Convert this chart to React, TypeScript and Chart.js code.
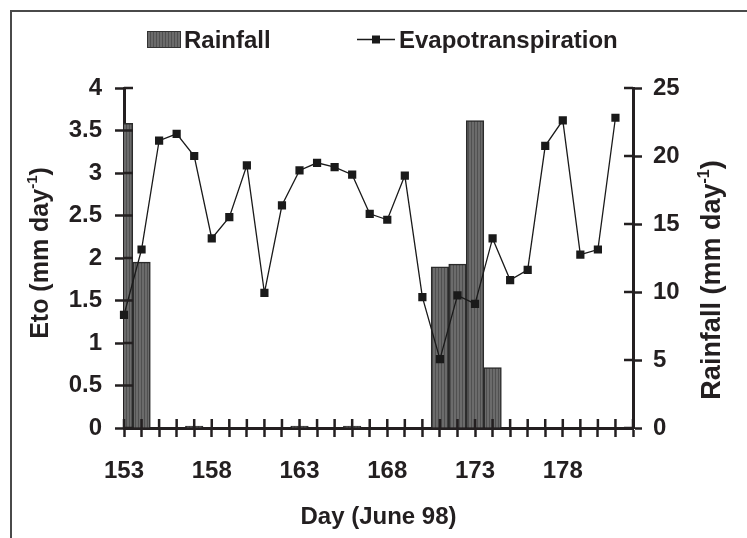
import React, { useEffect, useRef } from "react";
import { Chart, registerables } from "chart.js";

Chart.register(...registerables);

const days = [
  "153", "154", "155", "156", "157", "158", "159", "160", "161", "162",
  "163", "164", "165", "166", "167", "168", "169", "170", "171", "172",
  "173", "174", "175", "176", "177", "178", "179", "180", "181", "182",
];

const labelledDays = ["153", "158", "163", "168", "173", "178"];

const rainfall: (number | null)[] = [
  22.4, 12.2, null, null, 0.15, null, null, null, null, null,
  0.15, null, null, 0.15, null, null, null, null, 11.85, 12.05,
  22.6, 4.45, null, null, null, null, null, null, null, null,
];

const evapotranspiration: (number | null)[] = [
  1.33, 2.1, 3.38, 3.46, 3.2, 2.23, 2.48, 3.09, 1.59, 2.62,
  3.03, 3.12, 3.07, 2.98, 2.52, 2.45, 2.97, 1.54, 0.81, 1.56,
  1.46, 2.23, 1.74, 1.86, 3.32, 3.62, 2.04, 2.1, 3.65, null,
];

const etoTicks = { min: 0, max: 4, step: 0.5 };
const rainTicks = { min: 0, max: 25, step: 5 };

const INK = "#231f20";
const FONT_FAMILY = "'Liberation Sans', Arial, sans-serif";
const FONT_SIZE = 24;

function makeBarPattern(): CanvasPattern | string {
  const c = document.createElement("canvas");
  c.width = 3;
  c.height = 3;
  const g = c.getContext("2d");
  if (!g) return "#626262";
  g.fillStyle = "#6b6b6b";
  g.fillRect(0, 0, 3, 3);
  g.fillStyle = "#505050";
  g.fillRect(0, 0, 1, 3);
  const p = g.createPattern(c, "repeat");
  return p || "#626262";
}

function drawRotatedTitle(
  ctx: CanvasRenderingContext2D,
  cx: number,
  cy: number,
  main: string,
  sup: string,
  tail: string,
  size: number
) {
  ctx.save();
  ctx.translate(cx, cy);
  ctx.rotate(-Math.PI / 2);
  const mainFont = `bold ${size}px ${FONT_FAMILY}`;
  const supFont = `bold ${Math.round(size * 0.6)}px ${FONT_FAMILY}`;
  ctx.font = mainFont;
  const w1 = ctx.measureText(main).width;
  const w3 = ctx.measureText(tail).width;
  ctx.font = supFont;
  const w2 = ctx.measureText(sup).width;
  const total = w1 + w2 + w3;
  let x = -total / 2;
  ctx.fillStyle = INK;
  ctx.textBaseline = "alphabetic";
  ctx.textAlign = "left";
  const base = size * 0.35;
  ctx.font = mainFont;
  ctx.fillText(main, x, base);
  x += w1;
  ctx.font = supFont;
  ctx.fillText(sup, x, base - size * 0.42);
  x += w2;
  ctx.font = mainFont;
  ctx.fillText(tail, x, base);
  ctx.restore();
}

const decorPlugin = {
  id: "decor",
  afterDraw(chart: any) {
    const ctx: CanvasRenderingContext2D = chart.ctx;
    const area = chart.chartArea;
    const xs = chart.scales.x;
    const yl = chart.scales.y;
    const yr = chart.scales.y1;
    const inner = 9;

    ctx.save();
    // frame
    ctx.strokeStyle = "#4a4a4a";
    ctx.lineWidth = 2;
    ctx.beginPath();
    ctx.moveTo(11, chart.height);
    ctx.lineTo(11, 11);
    ctx.lineTo(chart.width, 11);
    ctx.stroke();

    // inward tick marks
    ctx.strokeStyle = INK;
    ctx.lineWidth = 2.5;
    ctx.beginPath();
    xs.ticks.forEach((_t: any, i: number) => {
      const px = xs.getPixelForTick(i);
      ctx.moveTo(px, area.bottom);
      ctx.lineTo(px, area.bottom - inner);
    });
    yl.ticks.forEach((_t: any, i: number) => {
      const py = yl.getPixelForTick(i);
      ctx.moveTo(area.left, py);
      ctx.lineTo(area.left + inner, py);
    });
    yr.ticks.forEach((_t: any, i: number) => {
      const py = yr.getPixelForTick(i);
      ctx.moveTo(area.right, py);
      ctx.lineTo(area.right - inner, py);
    });
    ctx.stroke();

    // legend
    const font = `bold ${FONT_SIZE}px ${FONT_FAMILY}`;
    ctx.font = font;
    ctx.textBaseline = "alphabetic";
    ctx.textAlign = "left";
    const barDs = chart.data.datasets[0];
    const lineDs = chart.data.datasets[1];
    ctx.fillStyle = barDs.backgroundColor;
    ctx.fillRect(147, 31, 34, 17);
    ctx.strokeStyle = "#333";
    ctx.lineWidth = 1;
    ctx.strokeRect(147.5, 31.5, 33, 16);
    ctx.fillStyle = INK;
    ctx.fillText(barDs.label, 184, 48);

    ctx.strokeStyle = lineDs.borderColor;
    ctx.lineWidth = 1.5;
    ctx.beginPath();
    ctx.moveTo(357, 39.5);
    ctx.lineTo(395, 39.5);
    ctx.stroke();
    ctx.fillStyle = lineDs.pointBackgroundColor;
    ctx.fillRect(372, 35.5, 8, 8);
    ctx.fillStyle = INK;
    ctx.fillText(lineDs.label, 399, 48);

    // axis titles
    drawRotatedTitle(ctx, 39, 253, "Eto (mm day", "-1", ")", 25);
    drawRotatedTitle(ctx, 711, 280, "Rainfall (mm day", "-1", ")", 27);

    ctx.font = font;
    ctx.textAlign = "center";
    ctx.fillStyle = INK;
    ctx.fillText("Day (June 98)", (area.left + area.right) / 2, 524);
    ctx.restore();
  },
};

export default function App() {
  const canvasRef = useRef<HTMLCanvasElement | null>(null);

  useEffect(() => {
    const canvas = canvasRef.current;
    if (!canvas) return;
    const tickFont = { family: FONT_FAMILY, size: FONT_SIZE, weight: "bold" as const };
    const chart = new Chart(canvas, {
      data: {
        labels: days,
        datasets: [
          {
            type: "bar",
            label: "Rainfall",
            data: rainfall,
            yAxisID: "y1",
            backgroundColor: makeBarPattern() as any,
            borderColor: "#2b2b2b",
            borderWidth: 1.5,
            barPercentage: 1,
            categoryPercentage: 1,
            clip: 0,
            order: 2,
          },
          {
            type: "line",
            label: "Evapotranspiration",
            data: evapotranspiration,
            yAxisID: "y",
            borderColor: "#1a1a1a",
            borderWidth: 1.3,
            pointStyle: "rect",
            pointRadius: 5.8,
            pointBackgroundColor: "#1a1a1a",
            pointBorderColor: "#1a1a1a",
            pointBorderWidth: 0,
            tension: 0,
            spanGaps: false,
            order: 1,
          },
        ],
      } as any,
      options: {
        animation: false,
        responsive: true,
        maintainAspectRatio: false,
        layout: { padding: { left: 0, right: 0, top: 88, bottom: 0 } },
        plugins: {
          legend: { display: false },
          title: { display: false },
          tooltip: { enabled: false },
        },
        scales: {
          x: {
            type: "category",
            offset: false,
            grid: {
              display: true,
              drawOnChartArea: false,
              drawTicks: true,
              tickLength: 9,
              tickWidth: 2.5,
              tickColor: INK,
              offset: false,
            },
            border: { display: true, color: INK, width: 3 },
            ticks: {
              autoSkip: false,
              maxRotation: 0,
              minRotation: 0,
              padding: 20,
              color: INK,
              font: tickFont,
              callback: (_v: any, i: number) =>
                labelledDays.includes(days[i]) ? days[i] : "",
            },
            afterFit: (s: any) => {
              s.height = 110;
            },
          },
          y: {
            type: "linear",
            position: "left",
            min: etoTicks.min,
            max: etoTicks.max,
            grid: {
              display: true,
              drawOnChartArea: false,
              drawTicks: true,
              tickLength: 9,
              tickWidth: 2.5,
              tickColor: INK,
            },
            border: { display: true, color: INK, width: 3 },
            ticks: {
              stepSize: etoTicks.step,
              padding: 13,
              color: INK,
              font: tickFont,
              callback: (v: any) => String(Number(v)),
            },
            afterFit: (s: any) => {
              s.width = 124;
            },
          },
          y1: {
            type: "linear",
            position: "right",
            min: rainTicks.min,
            max: rainTicks.max,
            grid: {
              display: true,
              drawOnChartArea: false,
              drawTicks: true,
              tickLength: 9,
              tickWidth: 2.5,
              tickColor: INK,
            },
            border: { display: true, color: INK, width: 3 },
            ticks: {
              stepSize: rainTicks.step,
              padding: 11,
              color: INK,
              font: tickFont,
              callback: (v: any) => String(Number(v)),
            },
            afterFit: (s: any) => {
              s.width = 114;
            },
          },
        },
      } as any,
      plugins: [decorPlugin],
    });
    return () => chart.destroy();
  }, []);

  return (
    <div style={{ position: "absolute", left: 0, top: 0, width: 747, height: 538, background: "#fff" }}>
      <canvas ref={canvasRef} />
    </div>
  );
}
